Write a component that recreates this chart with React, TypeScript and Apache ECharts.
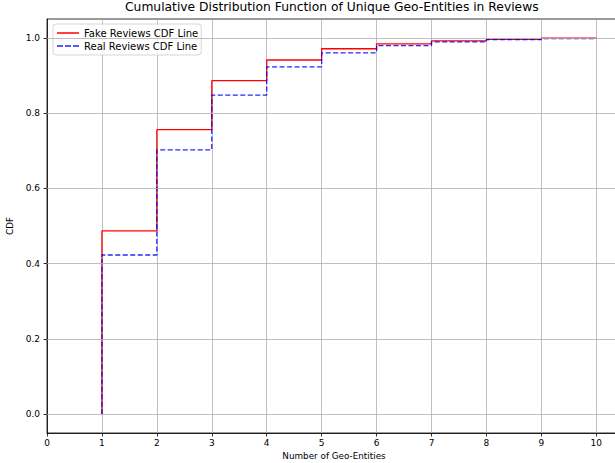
import React, { useEffect, useRef } from "react";
import * as echarts from "echarts";

const xValues = [1, 2, 3, 4, 5, 6, 7, 8, 9, 10];
const fakeCdf = [0.487, 0.756, 0.886, 0.941, 0.971, 0.984, 0.992, 0.996, 0.999, 1.0];
const realCdf = [0.423, 0.702, 0.848, 0.923, 0.960, 0.979, 0.989, 0.995, 0.998, 1.0];
const xTicks = [0, 1, 2, 3, 4, 5, 6, 7, 8, 9, 10];
const yTicks = [0, 0.2, 0.4, 0.6, 0.8, 1.0];

const FONT = "DejaVu Sans";
const SOLID_ICON = "path://M0,0H22V1.5H0Z";
const DASH_ICON = "path://M0,0H6V1.5H0Z M8,0H14V1.5H8Z M16,0H22V1.5H16Z";

export default function App() {
  const ref = useRef<HTMLDivElement>(null);
  useEffect(() => {
    if (!ref.current) return;
    const chart = echarts.init(ref.current, null, { renderer: "svg" });
    const toSteps = (vals: number[]) => {
      const d: number[][] = [[xValues[0], 0]];
      xValues.forEach((x, i) => d.push([x, vals[i]]));
      return d;
    };
    chart.setOption({
      animation: false,
      backgroundColor: "#fff",
      textStyle: { fontFamily: FONT },
      title: {
        text: "Cumulative Distribution Function of Unique Geo-Entities in Reviews",
        left: 125,
        top: 1,
        padding: 0,
        textStyle: { fontFamily: FONT, fontSize: 12.3, fontWeight: "normal", color: "#000" },
      },
      legend: {
        orient: "vertical",
        left: 53,
        top: 24,
        itemWidth: 22,
        itemHeight: 1.5,
        itemGap: 1,
        itemTextGap: 7,
        padding: [3, 3, 3, 4],
        borderColor: "#cccccc",
        borderWidth: 0.8,
        borderRadius: 3,
        backgroundColor: "rgba(255,255,255,0.8)",
        textStyle: { fontFamily: FONT, fontSize: 10, lineHeight: 12, color: "#000" },
        data: [
          { name: "Fake Reviews CDF Line", icon: SOLID_ICON, itemStyle: { color: "#ff0000" } },
          { name: "Real Reviews CDF Line", icon: DASH_ICON, itemStyle: { color: "#2020ff" } },
        ],
      },
      grid: {
        left: 47,
        top: 19,
        width: 574,
        height: 414,
        show: true,
        borderColor: "#000",
        borderWidth: 0.8,
        backgroundColor: "transparent",
        containLabel: false,
        outerBoundsMode: "none",
      },
      xAxis: {
        type: "value",
        min: 0,
        max: 10.45,
        interval: 1,
        name: "Number of Geo-Entities",
        nameLocation: "middle",
        nameGap: 18,
        nameTextStyle: { fontFamily: FONT, fontSize: 8.8, color: "#000" },
        axisLine: { show: true, onZero: false, lineStyle: { color: "#000", width: 0.8 } },
        axisTick: { show: true, length: 3.5, lineStyle: { color: "#000", width: 0.8 }, customValues: xTicks },
        axisLabel: { fontFamily: FONT, fontSize: 9, color: "#000", margin: 5, customValues: xTicks },
        splitLine: { show: true, lineStyle: { color: "#b0b0b0", width: 0.8 } },
      },
      yAxis: {
        type: "value",
        min: -0.05,
        max: 1.05,
        name: "CDF",
        nameLocation: "middle",
        nameGap: 33,
        nameTextStyle: { fontFamily: FONT, fontSize: 8.8, color: "#000" },
        axisLine: { show: true, onZero: false, lineStyle: { color: "#000", width: 0.8 } },
        axisTick: { show: true, length: 3.5, lineStyle: { color: "#000", width: 0.8 }, customValues: yTicks },
        axisLabel: {
          fontFamily: FONT,
          fontSize: 9,
          color: "#000",
          margin: 7,
          customValues: yTicks,
          formatter: (v: number) => v.toFixed(1),
        },
        splitLine: { show: false },
      },
      series: [
        {
          name: "grid",
          type: "line",
          data: [],
          z: 1,
          silent: true,
          markLine: {
            silent: true,
            symbol: "none",
            label: { show: false },
            lineStyle: { color: "#b0b0b0", width: 0.8, type: "solid" },
            data: yTicks.map((y) => ({ yAxis: y })),
          },
        },
        {
          name: "Fake Reviews CDF Line",
          type: "line",
          step: "end",
          symbol: "none",
          showSymbol: false,
          z: 3,
          color: "#ff0000",
          lineStyle: { color: "#ff0000", width: 1.3 },
          data: toSteps(fakeCdf),
        },
        {
          name: "Real Reviews CDF Line",
          type: "line",
          step: "end",
          symbol: "none",
          showSymbol: false,
          z: 4,
          color: "#2020ff",
          lineStyle: { color: "#0000ff", width: 1.3, type: [5, 2.5], opacity: 0.85 },
          data: toSteps(realCdf),
        },
      ],
    });
    return () => chart.dispose();
  }, []);
  return (
    <div
      ref={ref}
      style={{ position: "fixed", left: 0, top: 0, width: 615, height: 463 }}
    />
  );
}
